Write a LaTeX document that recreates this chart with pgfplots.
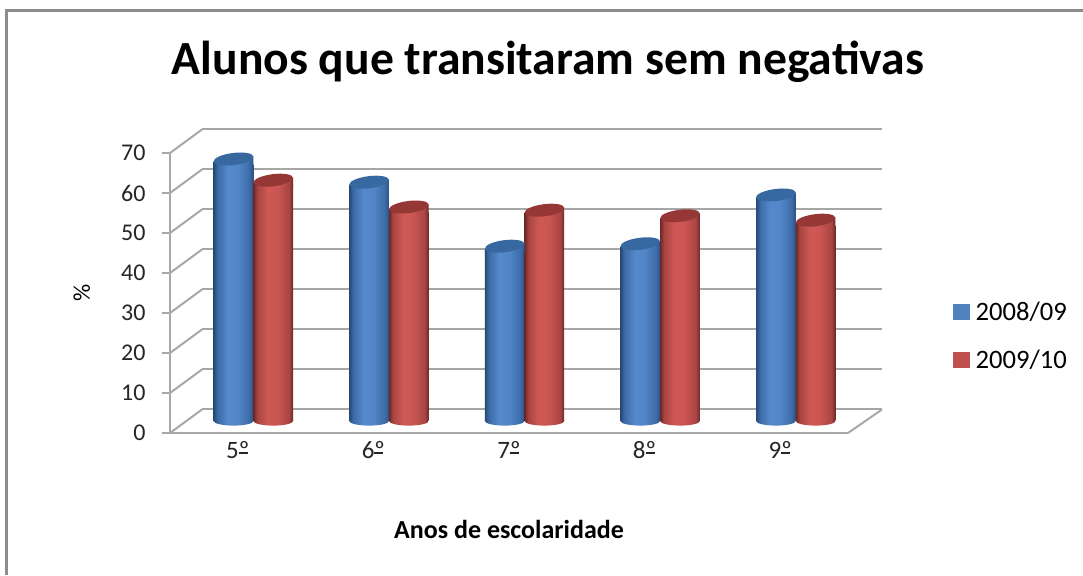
\documentclass[border=0pt]{standalone}
\usepackage{pgfplots}
\pgfplotsset{compat=1.18}
\usepackage{fontspec}
\setmainfont{Carlito}
\definecolor{gridc}{HTML}{A6A6A6}
\definecolor{axc}{HTML}{A8A8A8}
\definecolor{capA}{HTML}{37689F}
\definecolor{capB}{HTML}{953735}
\definecolor{legA}{HTML}{4F81BD}
\definecolor{legB}{HTML}{C0504D}
\pgfdeclarehorizontalshading{cylA}{100bp}{rgb(0bp)=(0.15,0.29,0.47);rgb(25bp)=(0.15,0.29,0.47);rgb(30bp)=(0.24,0.42,0.65);rgb(43bp)=(0.33,0.54,0.80);rgb(56bp)=(0.32,0.52,0.78);rgb(70bp)=(0.24,0.42,0.66);rgb(75bp)=(0.17,0.31,0.51);rgb(100bp)=(0.17,0.31,0.51)}
\pgfdeclarehorizontalshading{cylB}{100bp}{rgb(0bp)=(0.42,0.16,0.15);rgb(25bp)=(0.42,0.16,0.15);rgb(30bp)=(0.66,0.27,0.26);rgb(43bp)=(0.81,0.35,0.33);rgb(56bp)=(0.79,0.33,0.32);rgb(70bp)=(0.66,0.27,0.26);rgb(75bp)=(0.42,0.16,0.15);rgb(100bp)=(0.42,0.16,0.15)}
\newcommand\declcyl[1]{%
\pgfdeclareplotmark{body#1}{%
  \pgfpathmoveto{\pgfqpoint{-19.8pt}{-7pt}}%
  \pgfpathlineto{\pgfqpoint{-19.8pt}{-2.5pt}}%
  \pgfpathlineto{\pgfqpoint{19.8pt}{2.5pt}}%
  \pgfpathlineto{\pgfqpoint{19.8pt}{-7pt}}%
  \pgfpathclose
  \pgfshadepath{cyl#1}{0}\pgfusepath{discard}}%
\pgfdeclareplotmark{base#1}{%
  \pgfpathmoveto{\pgfqpoint{-19.8pt}{1pt}}%
  \pgfpathlineto{\pgfqpoint{-19.8pt}{0pt}}%
  \pgfpatharc{180}{360}{19.8pt and 4.6pt}%
  \pgfpathlineto{\pgfqpoint{19.8pt}{1pt}}%
  \pgfpathclose
  \pgfshadepath{cyl#1}{0}\pgfusepath{discard}}%
}
\declcyl{A}\declcyl{B}
\pgfdeclareplotmark{cap}{%
  \pgfpathellipse{\pgfpointorigin}{\pgfqpoint{19.8pt}{2.5pt}}{\pgfqpoint{-0.7pt}{6pt}}%
  \pgfusepathqfill}
\newcommand\fs[1]{\fontsize{#1}{#1}\selectfont}
\newcommand\ord[1]{#1\makebox[0pt][l]{\raisebox{5pt}{\rule{0.36em}{1.2pt}}}º}
\pgfplotsset{
  geo/.style={scale only axis,width=678pt,height=280pt,anchor=south west,
    xmin=-0.5,xmax=4.5,ymin=0,ymax=70,clip=false},
}
% x position, value, series
\newcommand\cyl[3]{%
  \addplot[forget plot,only marks,mark=base#3] coordinates {(#1,0)};
  \addplot[forget plot,ybar,bar width=39.6pt,bar shift=0pt,draw=none,shading=cyl#3,y filter/.expression={y-1.3}] coordinates {(#1,#2)};
  \addplot[forget plot,only marks,mark=body#3] coordinates {(#1,#2)};
  \addplot[forget plot,only marks,mark=cap,mark options={fill=cap#3,draw=none}] coordinates {(#1,#2)};
}
\begin{document}
\begin{tikzpicture}[x=1pt,y=1pt]
\path[use as bounding box,fill=white] (0,0) rectangle (1083,575);
\draw[color=gray!90,line width=3pt] (6,0) -- (6,564.7) -- (1083,564.7);
% back wall
\begin{axis}[geo,at={(202pt,165.5pt)},width=680pt,
  axis line style={draw=none},xtick=\empty,ytick={0,10,...,70},yticklabels={},
  major tick length=0pt,ymajorgrids,grid style={color=gridc,line width=2pt}]
\end{axis}
% front axis
\begin{axis}[geo,at={(170pt,142pt)},
  axis x line*=bottom,axis y line*=left,
  axis line style={color=axc,line width=2pt,-},
  xtick={0,1,2,3,4},xticklabels={\ord{5},\ord{6},\ord{7},\ord{8},\ord{9}},
  ytick={0,10,...,70},
  /pgf/number format/assume math mode=true,
  x tick style={draw=none},
  y tick style={color=axc,line width=2pt},
  tick align=outside,major tick length=8pt,
  tick label style={font=\fs{24},color=black!85},
  xticklabel style={yshift=3pt,font=\fs{25}},
  yticklabel style={xshift=-13pt},
  xlabel={Anos de escolaridade},
  xlabel style={font=\fs{26}\bfseries,at={(axis description cs:0.5,-0.346)},anchor=center},
  ylabel={\%},
  ylabel style={font=\fs{24},at={(axis description cs:-0.13,0.5)},anchor=center},
  title={Alunos que transitaram sem negativas},
  title style={font=\fs{47.6}\bfseries,at={(axis description cs:0.5575,1.305)},anchor=center},
  ]
\foreach \k in {0,10,...,70}{
  \edef\tmp{\noexpand\draw[color=axc,line width=2pt] (axis cs:-0.5,\k) -- ++(32pt,23.5pt);}\tmp
}
\draw[color=axc,line width=2pt] (axis cs:4.5,0) -- ++(34pt,23.5pt);
\end{axis}
% cylinders
\begin{axis}[geo,at={(185.5pt,154pt)},hide axis]
\cyl{-0.146}{65.5}{A}\cyl{0.147}{60.2}{B}
\cyl{0.854}{59.7}{A}\cyl{1.147}{53.5}{B}
\cyl{1.854}{43.7}{A}\cyl{2.147}{52.7}{B}
\cyl{2.854}{44.3}{A}\cyl{3.147}{51.3}{B}
\cyl{3.854}{56.5}{A}\cyl{4.147}{50.2}{B}
\end{axis}
% legend
\begin{axis}[geo,at={(953pt,215pt)},width=130pt,height=60pt,hide axis,
  legend style={draw=none,fill=none,at={(0,1)},anchor=north west,font=\fs{26.6},
    inner sep=0pt,outer sep=0pt,row sep=24pt},
  legend image code/.code={\fill[#1] (0pt,-7.7pt) rectangle (15.5pt,7.7pt);\path[draw=none,fill=none] (0pt,0pt) rectangle (20.5pt,0.1pt);},
  legend cell align=left]
\addlegendimage{legA}\addlegendentry{2008/09}
\addlegendimage{legB}\addlegendentry{2009/10}
\end{axis}
\end{tikzpicture}
\end{document}
